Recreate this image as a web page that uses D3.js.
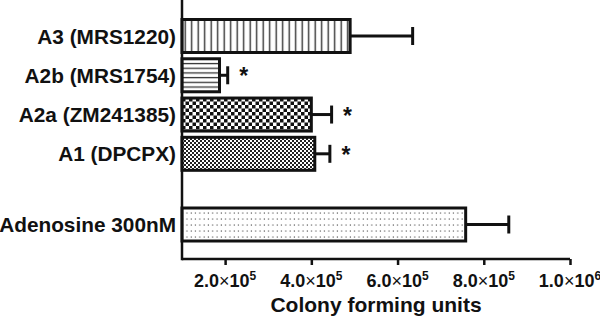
<!DOCTYPE html>
<html>
<head>
<meta charset="utf-8">
<script src="https://cdn.jsdelivr.net/npm/d3@7"></script>
<style>
  html, body { margin: 0; padding: 0; background: #fff; }
  svg { display: block; }
  text { font-family: "Liberation Sans", Arial, Helvetica, sans-serif; font-weight: bold; fill: #111; }
</style>
</head>
<body>
<script>
// ---- data ----
const categories = ["A3 (MRS1220)", "A2b (MRS1754)", "A2a (ZM241385)", "A1 (DPCPX)", "Adenosine 300nM"];
const means = [490000, 187000, 400000, 408000, 758000];
const errors = [145000, 19000, 47000, 35000, 100000];
const significance = ["", "*", "*", "*", ""];
const patterns = ["vlines", "hlines", "checker", "finechecker", "dots"];
const tickValues = [200000, 400000, 600000, 800000, 1000000];
const tickMantissa = ["2.0", "4.0", "6.0", "8.0", "1.0"];
const tickExponent = ["5", "5", "5", "5", "6"];
const xTitle = "Colony forming units";

// ---- layout ----
const W = 600, H = 321;
const axisX = 182, axisY = 259;
const svg = d3.select("body").append("svg").attr("width", W).attr("height", H);

const x = d3.scaleLinear().domain([100000, 1000000]).range([axisX, 570]);
// slot positions: four antagonists then a gap before adenosine
const slotOf = i => (i < 4 ? i : 4.8);
const y = d3.scaleLinear().domain([0, 4.8]).range([36, 224.5]);
const barH = 33;

// ---- patterns ----
const defs = svg.append("defs");
let p = defs.append("pattern").attr("id", "vlines").attr("patternUnits", "userSpaceOnUse")
  .attr("width", 6.5).attr("height", 10);
p.append("rect").attr("width", 6.5).attr("height", 10).attr("fill", "#fff");
p.append("rect").attr("x", 2.5).attr("width", 1.4).attr("height", 10).attr("fill", "#333");

p = defs.append("pattern").attr("id", "hlines").attr("patternUnits", "userSpaceOnUse")
  .attr("width", 10).attr("height", 4.7).attr("y", 0);
p.append("rect").attr("width", 10).attr("height", 4.7).attr("fill", "#fff");
p.append("rect").attr("y", 1.8).attr("width", 10).attr("height", 1.3).attr("fill", "#333");

p = defs.append("pattern").attr("id", "checker").attr("patternUnits", "userSpaceOnUse")
  .attr("width", 7).attr("height", 7);
p.append("rect").attr("width", 7).attr("height", 7).attr("fill", "#fff");
p.append("rect").attr("width", 3.5).attr("height", 3.5).attr("fill", "#111");
p.append("rect").attr("x", 3.5).attr("y", 3.5).attr("width", 3.5).attr("height", 3.5).attr("fill", "#111");

p = defs.append("pattern").attr("id", "finechecker").attr("patternUnits", "userSpaceOnUse")
  .attr("width", 4).attr("height", 4);
p.append("rect").attr("width", 4).attr("height", 4).attr("fill", "#fff");
p.append("rect").attr("width", 2).attr("height", 2).attr("fill", "#222");
p.append("rect").attr("x", 2).attr("y", 2).attr("width", 2).attr("height", 2).attr("fill", "#222");

p = defs.append("pattern").attr("id", "dots").attr("patternUnits", "userSpaceOnUse")
  .attr("width", 4.3).attr("height", 6);
p.append("rect").attr("width", 4.3).attr("height", 6).attr("fill", "#fff");
p.append("rect").attr("x", 1.5).attr("y", 2.5).attr("width", 1.1).attr("height", 1.1).attr("fill", "#444");

// ---- bars ----
const rows = categories.map((c, i) => ({ c, m: means[i], e: errors[i], s: significance[i], p: patterns[i], i }));
const g = svg.append("g");

// error bars (drawn under the bar outline)
rows.forEach(d => {
  const cy = y(slotOf(d.i));
  g.append("line").attr("x1", x(d.m)).attr("x2", x(d.m + d.e)).attr("y1", cy).attr("y2", cy)
    .attr("stroke", "#111").attr("stroke-width", 3);
  g.append("line").attr("x1", x(d.m + d.e)).attr("x2", x(d.m + d.e)).attr("y1", cy - 9).attr("y2", cy + 9)
    .attr("stroke", "#111").attr("stroke-width", 3);
});

g.selectAll("rect.bar").data(rows).enter().append("rect").attr("class", "bar")
  .attr("x", x(100000))
  .attr("y", d => y(slotOf(d.i)) - barH / 2)
  .attr("width", d => x(d.m) - x(100000))
  .attr("height", barH)
  .attr("fill", d => `url(#${d.p})`)
  .attr("stroke", "#111").attr("stroke-width", 3);

// significance stars
g.selectAll("text.sig").data(rows.filter(d => d.s)).enter().append("text").attr("class", "sig")
  .attr("x", d => x(d.m + d.e) + 16)
  .attr("y", d => y(slotOf(d.i)) + 9)
  .attr("text-anchor", "middle")
  .style("font-size", "23px")
  .text(d => d.s);

// category labels
g.selectAll("text.cat").data(rows).enter().append("text").attr("class", "cat")
  .attr("x", 176)
  .attr("y", d => y(slotOf(d.i)) + 7.5)
  .attr("text-anchor", "end")
  .style("font-size", "20.8px")
  .text(d => d.c);

// ---- axes ----
svg.append("line").attr("x1", axisX).attr("x2", axisX).attr("y1", 0).attr("y2", axisY + 1.2)
  .attr("stroke", "#111").attr("stroke-width", 2.5);

const xAxis = d3.axisBottom(x).tickValues(tickValues).tickSize(6).tickSizeOuter(0).tickFormat("");
const ax = svg.append("g").attr("transform", `translate(0,${axisY})`).call(xAxis);
ax.select(".domain").attr("d", `M${axisX},0H${x(1000000)}`).attr("stroke", "#111").attr("stroke-width", 2.5);
ax.selectAll(".tick line").attr("stroke", "#111").attr("stroke-width", 2.5);

tickValues.forEach((v, i) => {
  const t = svg.append("text").attr("x", x(v)).attr("y", 287).attr("text-anchor", "middle")
    .style("font-size", "18px");
  t.append("tspan").text(tickMantissa[i]);
  t.append("tspan").style("font-weight", "normal").text("×");
  t.append("tspan").text("10");
  t.append("tspan").attr("dy", -7.5).style("font-size", "12px").text(tickExponent[i]);
});

svg.append("text").attr("x", 376).attr("y", 312).attr("text-anchor", "middle")
  .style("font-size", "21px").text(xTitle);
</script>
</body>
</html>
